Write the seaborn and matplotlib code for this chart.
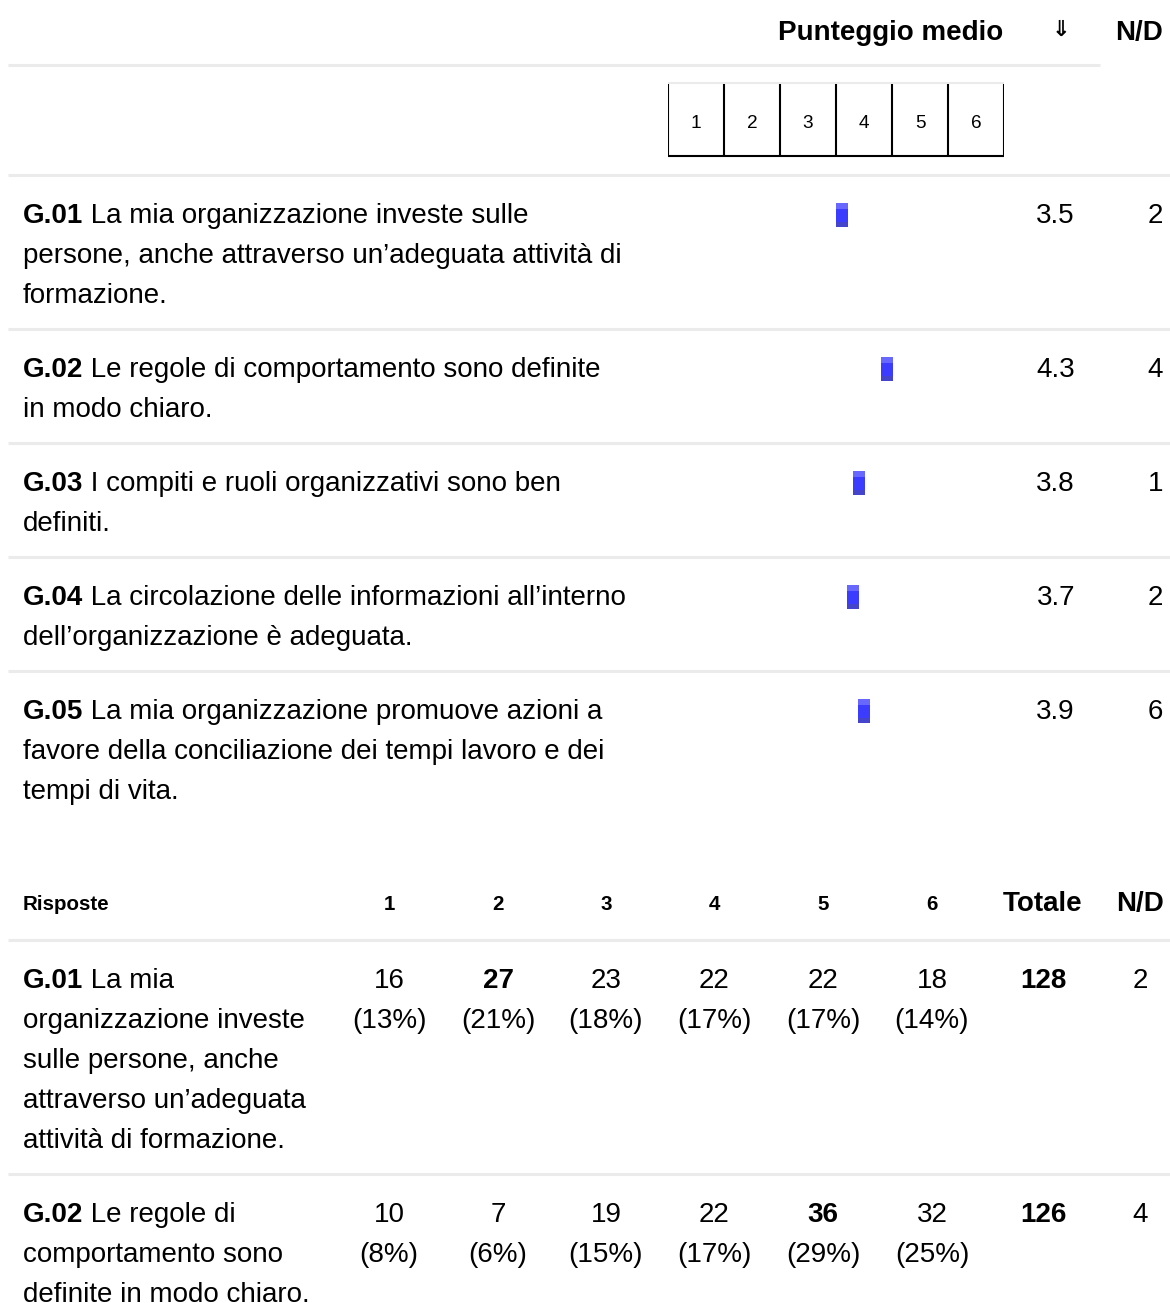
import matplotlib
matplotlib.use("Agg")
import matplotlib.pyplot as plt
import pandas as pd
import seaborn as sns
from matplotlib.path import Path

# --- data -------------------------------------------------------------------
codes = ["G.01", "G.02", "G.03", "G.04", "G.05"]
statements = [
    "La mia organizzazione investe sulle\npersone, anche attraverso un’adeguata attività di\nformazione.",
    "Le regole di comportamento sono definite\nin modo chiaro.",
    "I compiti e ruoli organizzativi sono ben\ndefiniti.",
    "La circolazione delle informazioni all’interno\ndell’organizzazione è adeguata.",
    "La mia organizzazione promuove azioni a\nfavore della conciliazione dei tempi lavoro e dei\ntempi di vita.",
]
mean_scores = [3.5, 4.3, 3.8, 3.7, 3.9]
nd_scores = [2, 4, 1, 2, 6]
scale_points = [1, 2, 3, 4, 5, 6]

resp_codes = ["G.01", "G.02"]
resp_statements = [
    "La mia\norganizzazione investe\nsulle persone, anche\nattraverso un’adeguata\nattività di formazione.",
    "Le regole di\ncomportamento sono\ndefinite in modo chiaro.",
]
resp_counts = [
    [16, 27, 23, 22, 22, 18],
    [10, 7, 19, 22, 36, 32],
]
resp_pct = [
    [13, 21, 18, 17, 17, 14],
    [8, 6, 15, 17, 29, 25],
]
resp_totals = [128, 126]
resp_nd = [2, 4]

# --- style ------------------------------------------------------------------
W, H = 1170, 1303
sns.set_theme(style="white")
plt.rcParams["font.family"] = ["Liberation Sans", "DejaVu Sans"]
plt.rcParams["text.color"] = "black"
FS = 20
FS_SMALL = 14.8
FS_SCALE = 13.7
SEP_COLOR = "#ebebeb"
LINE_H = 40

fig = plt.figure(figsize=(W / 100, H / 100), dpi=100)
ax = fig.add_axes([0, 0, 1, 1])
ax.set_xlim(0, W)
ax.set_ylim(H, 0)
ax.axis("off")

# scale axes: one unit per answer value
SC_LEFT, SC_RIGHT = 668, 1004
sc = fig.add_axes([SC_LEFT / W, 0, (SC_RIGHT - SC_LEFT) / W, 1])
sc.set_xlim(0.5, 6.5)
sc.set_ylim(H, 0)
sc.axis("off")
sc.patch.set_alpha(0)


def sep(y, x0=8, x1=W):
    ax.plot([x0, x1], [y, y], color=SEP_COLOR, lw=2.2, solid_capstyle="butt")


def label(x, y, code, lines, size):
    first, *rest = lines.split("\n")
    t = ax.text(x, y, code, fontsize=size, fontweight="bold", va="baseline", ha="left")
    ax.annotate(" " + first, xy=(1, 0), xycoords=t, va="bottom", ha="left", fontsize=size)
    for i, ln in enumerate(rest, start=1):
        ax.text(x, y + LINE_H * i, ln, fontsize=size, va="baseline", ha="left")


# --- header of first table -------------------------------------------------
ax.text(1003, 40, "Punteggio medio", fontsize=FS, fontweight="bold", ha="right", va="baseline")
ax.text(1061, 36, "⇓", fontsize=16, fontweight="bold", ha="center", va="baseline",
        family=["DejaVu Sans"])
ax.text(1163, 40, "N/D", fontsize=FS, fontweight="bold", ha="right", va="baseline")
ax.plot([8, 1100], [65, 65], color=SEP_COLOR, lw=2.2, solid_capstyle="butt")

# scale boxes
sc.plot([0.5, 6.5], [83, 83], color=SEP_COLOR, lw=1.5, solid_capstyle="butt")
sc.vlines([p - 0.5 for p in scale_points] + [6.5], 84, 156, color="black", lw=1.5)
sc.plot([0.5, 6.5], [156, 156], color="black", lw=1.5, solid_capstyle="butt")
for p in scale_points:
    sc.text(p, 128, str(p), fontsize=FS_SCALE, ha="center", va="baseline")

# --- rows of first table ----------------------------------------------------
row_top = 175
marker_y = []
for code, text, m, nd in zip(codes, statements, mean_scores, nd_scores):
    sep(row_top)
    base = row_top + 48
    label(23, base, code, text, FS)
    ax.text(1075, base, f"{m:.1f}", fontsize=FS, ha="right", va="baseline")
    ax.text(1163, base, str(nd), fontsize=FS, ha="right", va="baseline")
    marker_y.append(base - 8)
    row_top += LINE_H * text.count("\n") + LINE_H + 34

means = pd.DataFrame({"mean": mean_scores, "y": marker_y})
# mean markers: small bar with light top and darker bottom band
bands = [
    ([(0, -0.6), (1, -0.6), (1, 0.5), (0, 0.5)], "#3c3cff"),
    ([(0, 0.5), (1, 0.5), (1, 1), (0, 1)], "#6868ff"),
    ([(0, -1), (1, -1), (1, -0.6), (0, -0.6)], "#4444cc"),
]
for verts, col in bands:
    verts = verts + [(0, -1), (1, 1)]  # keep same normalisation for each band
    codes_p = [Path.MOVETO, Path.LINETO, Path.LINETO, Path.LINETO, Path.MOVETO, Path.MOVETO]
    sns.scatterplot(data=means, x="mean", y="y", ax=sc, marker=Path(verts, codes_p),
                    s=300, color=col, edgecolor="none", linewidth=0, legend=False)
sc.set_xlim(0.5, 6.5)
sc.set_ylim(H, 0)

# --- second table -----------------------------------------------------------
col_x = [389, 498, 606, 714, 823, 932]
ax.text(23, 910, "Risposte", fontsize=FS_SMALL, fontweight="bold", ha="left", va="baseline")
for cx, p in zip(col_x, scale_points):
    ax.text(cx, 910, str(p), fontsize=FS_SMALL, fontweight="bold", ha="center", va="baseline")
ax.text(1043, 911, "Totale", fontsize=FS, fontweight="bold", ha="center", va="baseline")
ax.text(1140, 911, "N/D", fontsize=FS, fontweight="bold", ha="center", va="baseline")

row_top = 940
for code, text, cnts, pcts, tot, nd in zip(resp_codes, resp_statements, resp_counts,
                                          resp_pct, resp_totals, resp_nd):
    sep(row_top)
    base = row_top + 48
    label(23, base, code, text, FS)
    top = max(cnts)
    for cx, c, pc in zip(col_x, cnts, pcts):
        ax.text(cx, base, str(c), fontsize=FS, ha="center", va="baseline",
                fontweight="bold" if c == top else "normal")
        ax.text(cx, base + LINE_H, f"({pc}%)", fontsize=FS, ha="center", va="baseline")
    ax.text(1043, base, str(tot), fontsize=FS, fontweight="bold", ha="center", va="baseline")
    ax.text(1140, base, str(nd), fontsize=FS, ha="center", va="baseline")
    row_top += LINE_H * text.count("\n") + LINE_H + 34

fig.savefig("out.png", dpi=100, facecolor="white")
